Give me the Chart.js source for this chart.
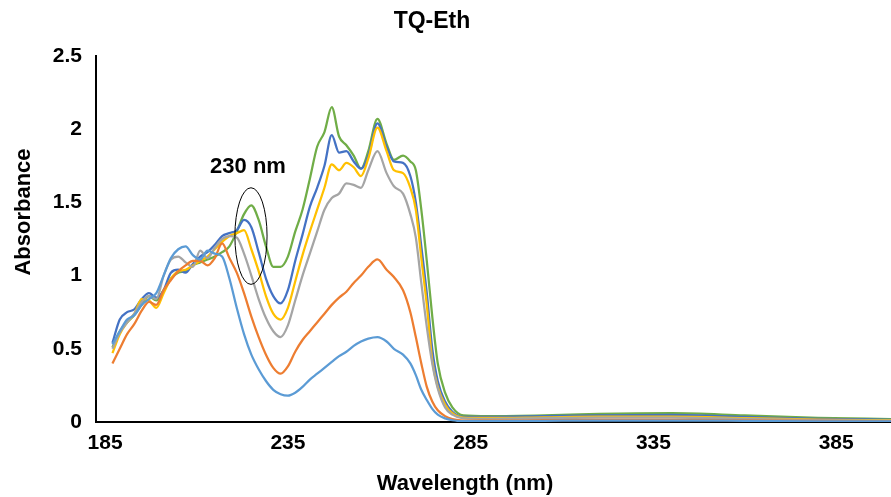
<!DOCTYPE html>
<html lang="en">
<head>
    <meta charset="UTF-8">
    <title>TQ-Eth</title>
    <script src="https://cdn.jsdelivr.net/npm/chart.js"></script>
    <style>
        body {
            margin: 0;
            background: #fff;
        }
        #wrap {
            width: 891px;
            height: 497px;
        }
    </style>
</head>
<body>
    <div id="wrap">
        <canvas id="spectra" width="891" height="497"></canvas>
    </div>

    <script>
        // wavelength grid (nm) shared by all six spectra
        const wavelengths = [
            187, 189, 191, 193, 195, 197, 199, 201, 203, 205,
            207, 209, 211, 213, 215, 217, 219, 221, 223, 225,
            227, 229, 231, 233, 235, 237, 239, 241, 243, 245,
            247, 249, 251, 253, 255, 257, 259.5, 262, 264, 266.5,
            268.5, 270, 271.5, 273, 274.5, 276, 278, 280, 283, 290,
            305, 320, 340, 360, 380, 400
        ];

        const series1 = [
            0.53, 0.62, 0.70, 0.73, 0.80, 0.84, 0.88, 1.00, 1.12, 1.18,
            1.20, 1.14, 1.11, 1.17, 1.15, 1.13, 0.98, 0.78, 0.60, 0.46,
            0.36, 0.28, 0.22, 0.19, 0.18, 0.20, 0.24, 0.29, 0.33, 0.37,
            0.41, 0.45, 0.48, 0.52, 0.55, 0.57, 0.58, 0.55, 0.50, 0.46,
            0.40, 0.32, 0.22, 0.15, 0.09, 0.05, 0.025, 0.012, 0.006, 0.006,
            0.008, 0.01, 0.01, 0.008, 0.005, 0.004
        ];
        const series2 = [
            0.40, 0.50, 0.60, 0.67, 0.76, 0.82, 0.80, 0.90, 0.97, 1.03,
            1.07, 1.10, 1.10, 1.07, 1.12, 1.22, 1.12, 1.02, 0.88, 0.72,
            0.58, 0.46, 0.37, 0.33, 0.38, 0.48, 0.56, 0.62, 0.68, 0.74,
            0.80, 0.85, 0.89, 0.95, 1.00, 1.06, 1.11, 1.04, 0.99, 0.90,
            0.75, 0.58, 0.40, 0.24, 0.14, 0.08, 0.04, 0.02, 0.01, 0.01,
            0.012, 0.014, 0.015, 0.011, 0.007, 0.005
        ];
        const series3 = [
            0.50, 0.61, 0.68, 0.74, 0.82, 0.86, 0.84, 1.00, 1.11, 1.13,
            1.09, 1.06, 1.17, 1.12, 1.19, 1.25, 1.27, 1.26, 1.15, 1.00,
            0.84, 0.71, 0.62, 0.58, 0.66, 0.83, 1.00, 1.15, 1.30, 1.45,
            1.53, 1.56, 1.63, 1.62, 1.60, 1.72, 1.85, 1.70, 1.61, 1.56,
            1.42, 1.26, 0.95, 0.65, 0.40, 0.23, 0.10, 0.05, 0.025, 0.022,
            0.026, 0.03, 0.03, 0.022, 0.013, 0.009
        ];
        const series4 = [
            0.47, 0.60, 0.68, 0.74, 0.84, 0.83, 0.78, 0.88, 0.98, 1.03,
            1.04, 1.07, 1.10, 1.13, 1.18, 1.23, 1.27, 1.29, 1.31, 1.18,
            1.03, 0.86, 0.74, 0.70, 0.78, 0.96, 1.14, 1.30, 1.45, 1.60,
            1.76, 1.72, 1.77, 1.74, 1.68, 1.80, 2.01, 1.85, 1.72, 1.70,
            1.60, 1.45, 1.12, 0.80, 0.42, 0.24, 0.12, 0.06, 0.03, 0.028,
            0.032, 0.036, 0.036, 0.027, 0.016, 0.012
        ];
        const series5 = [
            0.54, 0.70, 0.75, 0.77, 0.84, 0.88, 0.85, 0.90, 1.02, 1.04,
            1.02, 1.08, 1.13, 1.16, 1.21, 1.27, 1.29, 1.31, 1.38, 1.33,
            1.16, 0.98, 0.86, 0.81, 0.90, 1.10, 1.28, 1.47, 1.60, 1.75,
            1.96, 1.84, 1.85, 1.78, 1.73, 1.82, 2.04, 1.88, 1.78, 1.77,
            1.68, 1.50, 1.20, 0.88, 0.50, 0.28, 0.14, 0.07, 0.035, 0.035,
            0.04, 0.045, 0.048, 0.035, 0.022, 0.015
        ];
        const series6 = [
            0.51, 0.62, 0.68, 0.73, 0.80, 0.86, 0.83, 0.90, 0.98, 1.02,
            1.03, 1.07, 1.09, 1.11, 1.13, 1.16, 1.20, 1.30, 1.42, 1.48,
            1.38, 1.20, 1.06, 1.06, 1.13, 1.30, 1.45, 1.66, 1.88, 1.98,
            2.15, 1.95, 1.89, 1.82, 1.73, 1.85, 2.07, 1.90, 1.79, 1.82,
            1.78, 1.72, 1.45, 1.10, 0.72, 0.40, 0.20, 0.10, 0.045, 0.04,
            0.045, 0.055, 0.06, 0.045, 0.028, 0.02
        ];

        const seriesColors = ['#5B9BD5', '#ED7D31', '#A5A5A5', '#FFC000', '#4472C4', '#70AD47'];
        const xTicks = [185, 235, 285, 335, 385];
        const yTicks = [0, 0.5, 1, 1.5, 2, 2.5];

        const FONT = "'Liberation Sans', Arial, sans-serif";

        // the "230 nm" callout, in data units
        const marker = { label: '230 nm', x: 224.9, y: 1.27, rx: 4.4, ry: 0.33 };

        function toPoints(values) {
            return values.map((v, i) => ({ x: wavelengths[i], y: v }));
        }

        const allSeries = [series1, series2, series3, series4, series5, series6];

        const overlay = {
            id: 'overlay',
            afterDraw(chart) {
                const ctx = chart.ctx;
                const xs = chart.scales.x, ys = chart.scales.y;
                ctx.save();
                ctx.fillStyle = '#000';
                ctx.textAlign = 'center';
                ctx.textBaseline = 'middle';

                ctx.font = 'bold 23px ' + FONT;
                ctx.fillText('TQ-Eth', 432, 22);

                ctx.font = 'bold 22px ' + FONT;
                ctx.fillText('Wavelength (nm)', 465, 484);

                ctx.save();
                ctx.translate(24, 212);
                ctx.rotate(-Math.PI / 2);
                ctx.fillText('Absorbance', 0, 0);
                ctx.restore();

                // ellipse around the 230 nm band
                const cx = xs.getPixelForValue(marker.x);
                const cy = ys.getPixelForValue(marker.y);
                const rx = xs.getPixelForValue(marker.x + marker.rx) - cx;
                const ry = cy - ys.getPixelForValue(marker.y + marker.ry);
                ctx.strokeStyle = '#000';
                ctx.lineWidth = 1;
                ctx.beginPath();
                ctx.ellipse(cx, cy, rx, ry, 0, 0, Math.PI * 2);
                ctx.stroke();

                ctx.font = 'bold 22px ' + FONT;
                ctx.fillText(marker.label, cx - 3, cy - ry - 21);
                ctx.restore();
            }
        };

        new Chart(document.getElementById('spectra'), {
            type: 'line',
            data: {
                datasets: allSeries.map((s, i) => ({
                    label: 'Series ' + (i + 1),
                    data: toPoints(s),
                    borderColor: seriesColors[i],
                    borderWidth: 2.25,
                    pointRadius: 0,
                    fill: false,
                    cubicInterpolationMode: 'monotone'
                }))
            },
            options: {
                responsive: false,
                animation: false,
                layout: { padding: { top: 56, left: 0, right: 0, bottom: 0 } },
                plugins: {
                    legend: { display: false },
                    title: { display: false },
                    tooltip: { enabled: false }
                },
                scales: {
                    x: {
                        type: 'linear',
                        min: 182.5,
                        max: 400,
                        afterBuildTicks: scale => {
                            scale.ticks = xTicks.map(v => ({ value: v }));
                        },
                        afterFit: scale => { scale.height = 75; },
                        grid: { display: false, drawTicks: false },
                        border: { display: true, color: '#000', width: 2 },
                        ticks: {
                            padding: 9,
                            maxRotation: 0,
                            autoSkip: false,
                            color: '#000',
                            callback: v => String(v),
                            font: { family: FONT, size: 21, weight: 'bold' }
                        }
                    },
                    y: {
                        min: 0,
                        max: 2.5,
                        afterBuildTicks: scale => {
                            scale.ticks = yTicks.map(v => ({ value: v }));
                        },
                        afterFit: scale => { scale.width = 96; },
                        grid: { display: false, drawTicks: false },
                        border: { display: true, color: '#000', width: 2 },
                        ticks: {
                            padding: 14,
                            color: '#000',
                            callback: v => String(v),
                            font: { family: FONT, size: 21, weight: 'bold' }
                        }
                    }
                }
            },
            plugins: [overlay]
        });
    </script>
</body>
</html>
